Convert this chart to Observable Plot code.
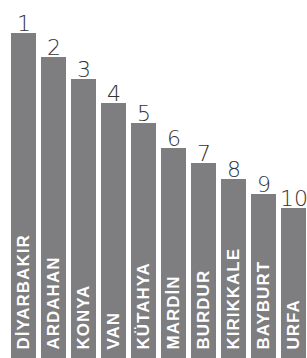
<!DOCTYPE html>
<html>
<head>
<meta charset="utf-8">
<script src="https://cdn.jsdelivr.net/npm/d3@7"></script>
<script src="https://cdn.jsdelivr.net/npm/@observablehq/plot@0.6"></script>
<style>
  html, body { margin: 0; padding: 0; background: #fff; }
  #chart svg { display: block; }
  .citylabel text { letter-spacing: 1px; }
</style>
</head>
<body>
<div id="chart"></div>
<script>
const cities = ["DİYARBAKIR", "ARDAHAN", "KONYA", "VAN", "KÜTAHYA", "MARDİN", "BURDUR", "KIRIKKALE", "BAYBURT", "URFA"];
const ranks = [1, 2, 3, 4, 5, 6, 7, 8, 9, 10];
const values = [325, 301, 279, 255, 235, 210, 195, 179, 164, 150];

const data = cities.map((c, i) => ({city: c, rank: ranks[i], value: values[i]}));

const chart = Plot.plot({
  width: 307,
  height: 358,
  marginTop: 0,
  marginBottom: 0,
  marginLeft: 0,
  marginRight: 0,
  style: {background: "#fff"},
  x: {domain: cities, range: [3.5, 313], padding: 0.18, axis: null},
  y: {domain: [0, 358], range: [358, 0], axis: null},
  marks: [
    Plot.barY(data, {x: "city", y: "value", fill: "#7e7e80"}),
    Plot.text(data, {x: "city", y: "value", text: d => String(d.rank), dy: -3, lineAnchor: "bottom",
      fontSize: 22, fill: "#333", fontFamily: "DejaVu Sans", fontWeight: 300}),
    Plot.text(data, {x: "city", y: 0, text: "city", rotate: -90, textAnchor: "start", dy: -9,
      fontSize: 17, fontWeight: "bold", fill: "#fff", className: "citylabel",
      fontFamily: "'Liberation Sans', sans-serif"})
  ]
});
document.getElementById("chart").appendChild(chart);
</script>
</body>
</html>
